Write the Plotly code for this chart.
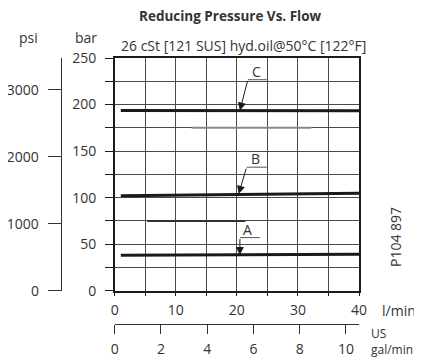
import plotly.graph_objects as go

# ---- data ----
flow_lpm = [1, 40]
curve_A = [38.0, 39.2]
curve_B = [101.9, 104.8]
curve_C = [193.6, 193.4]

x_tick_vals = [0, 5, 10, 15, 20, 25, 30, 35, 40]
x_tick_text = ["0", "", "10", "", "20", "", "30", "", "40"]
y_tick_vals = [0, 25, 50, 75, 100, 125, 150, 175, 200, 225, 250]
y_tick_text = ["0", "", "50", "", "100", "", "150", "", "200", "", "250"]
psi_tick_vals = [0, 1000, 2000, 3000]
psi_tick_text = ["0", "1000", "2000", "3000"]
gal_tick_vals = [0, 2, 4, 6, 8, 10]
gal_tick_text = ["0", "2", "4", "6", "8", "10"]

# leader lines (label callouts)
leader_A_x = [20.5, 20.5, 23.8]
leader_A_y = [38.4, 57.0, 57.0]
leader_B_x = [20.3, 21.6, 24.9]
leader_B_y = [104.0, 132.7, 132.7]
leader_C_x = [20.5, 21.8, 24.9]
leader_C_y = [193.6, 226.7, 226.7]
label_pos = {"A": (21.8, 66.0), "B": (23.0, 141.7), "C": (23.2, 235.6)}

# drawing remnants on the grid
seg75_x = [5.3, 21.4]
seg75_y = [75, 75]
seg175_x = [12.6, 32.2]
seg175_y = [175, 175]

# page is shown with an 8px body margin: size the figure accordingly
OFF = 8
W, H = 422 - OFF, 358 - OFF
ML, MR, MT, MB = 40 - OFF, 63, 58 - OFF, 20
PW, PH = W - ML - MR, H - MT - MB


def px(x):  # page pixel -> paper fraction
    return (x - OFF - ML) / PW


def py(y):
    return (H - MB - (y - OFF)) / PH


FONT = "Open Sans"
TXT = "#333333"
GRID = "#4a4a4a"

fig = go.Figure()

for xs, ys, col, w in [(seg175_x, seg175_y, "#8a8a8a", 2), (seg75_x, seg75_y, "#333333", 2)]:
    fig.add_trace(go.Scatter(x=xs, y=ys, mode="lines", line=dict(color=col, width=w),
                             hoverinfo="skip", showlegend=False))

for ys in [curve_A, curve_B, curve_C]:
    fig.add_trace(go.Scatter(x=flow_lpm, y=ys, mode="lines",
                             line=dict(color="#1a1a1a", width=3), showlegend=False))

for lx, ly in [(leader_A_x, leader_A_y), (leader_B_x, leader_B_y), (leader_C_x, leader_C_y)]:
    fig.add_trace(go.Scatter(x=lx[1:], y=ly[1:], mode="lines",
                             line=dict(color="#555555", width=1), showlegend=False, hoverinfo="skip"))
    fig.add_annotation(x=lx[0], y=ly[0], ax=lx[1], ay=ly[1], axref="x", ayref="y",
                       xref="x", yref="y", text="", showarrow=True, arrowhead=2,
                       arrowsize=1.6, arrowwidth=1, arrowcolor="#1a1a1a", standoff=0)

for name, (lx, ly) in label_pos.items():
    fig.add_annotation(x=lx, y=ly, xref="x", yref="y", text=name, showarrow=False,
                       font=dict(family=FONT, size=14, color=TXT))

# dummy traces to activate secondary axes
fig.add_trace(go.Scatter(x=[None], y=[None], yaxis="y2", showlegend=False))
fig.add_trace(go.Scatter(x=[None], y=[None], xaxis="x2", showlegend=False))

x0 = px(114.7)
y0 = py(290.7)

fig.update_layout(
    width=W, height=H,
    margin=dict(l=ML, r=MR, t=MT, b=MB, autoexpand=False),
    paper_bgcolor="white", plot_bgcolor="white",
    font=dict(family=FONT, size=14, color=TXT),
    xaxis=dict(domain=[x0, 1], range=[0, 40], tickvals=x_tick_vals, ticktext=x_tick_text,
               showgrid=True, gridcolor=GRID, gridwidth=1, zeroline=False, automargin=False,
               showline=True, linecolor="#1a1a1a", linewidth=1.5, mirror=True,
               ticks="outside", ticklen=4, tickcolor="#1a1a1a", ticklabelstandoff=2,
               tickfont=dict(family=FONT, size=14, color=TXT)),
    yaxis=dict(domain=[y0, 1], range=[0, 250], tickvals=y_tick_vals, ticktext=y_tick_text,
               showgrid=True, gridcolor=GRID, gridwidth=1, zeroline=False, automargin=False,
               showline=True, linecolor="#1a1a1a", linewidth=1.5, mirror=True,
               ticks="outside", ticklen=8, tickcolor="#1a1a1a", ticklabelstandoff=6,
               tickfont=dict(family=FONT, size=14, color=TXT)),
    yaxis2=dict(overlaying="y", anchor="free", position=px(60.7), side="left",
                range=[0, 3474], tickvals=psi_tick_vals, ticktext=psi_tick_text,
                showgrid=False, zeroline=False, automargin=False,
                showline=True, linecolor="#333333", linewidth=1,
                ticks="outside", ticklen=13, tickcolor="#333333", ticklabelstandoff=6,
                tickfont=dict(family=FONT, size=14, color=TXT)),
    xaxis2=dict(overlaying="x", anchor="free", position=py(324.3), side="bottom",
                range=[0, 40 / 3.78541], tickvals=gal_tick_vals, ticktext=gal_tick_text,
                showgrid=False, zeroline=False, automargin=False,
                showline=True, linecolor="#333333", linewidth=1,
                ticks="outside", ticklen=9, tickcolor="#333333", ticklabelstandoff=3,
                tickfont=dict(family=FONT, size=14, color=TXT)),
)

texts = [
    ("<b>Reducing Pressure Vs. Flow</b>", 230, 15.7, "center", 13.5, 0),
    ("26 cSt [121 SUS] hyd.oil@50°C [122°F]", 243.7, 45.7, "center", 14, 0),
    ("psi", 28, 37.3, "center", 14, 0),
    ("bar", 86, 37.3, "center", 14, 0),
    ("l/min", 380, 310.7, "left", 14, 0),
    ("US<br>gal/min", 369, 341, "left", 12, 0),
    ("P104 897", 395, 237, "center", 14, -90),
]
for t, x, y, xa, s, ang in texts:
    fig.add_annotation(x=px(x), y=py(y), xref="paper", yref="paper", text=t, showarrow=False,
                       xanchor=xa, yanchor="middle", textangle=ang, align="left",
                       font=dict(family=FONT, size=s, color=TXT))

fig.write_html("out.html")
